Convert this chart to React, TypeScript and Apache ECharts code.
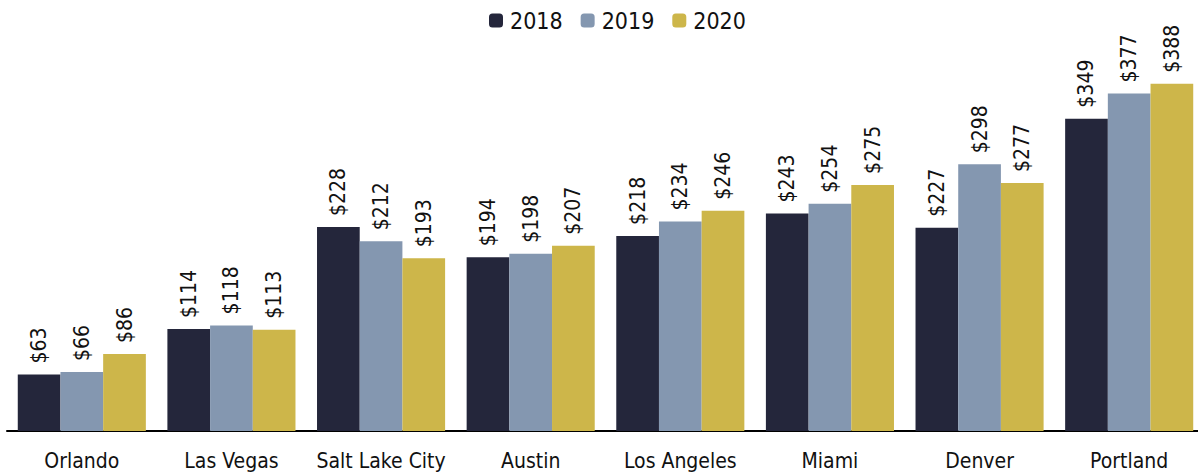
import React, { useEffect, useRef } from "react";
import * as echarts from "echarts";

const categories = ["Orlando", "Las Vegas", "Salt Lake City", "Austin", "Los Angeles", "Miami", "Denver", "Portland"];
const seriesNames = ["2018", "2019", "2020"];
const values2018 = [63, 114, 228, 194, 218, 243, 227, 349];
const values2019 = [66, 118, 212, 198, 234, 254, 298, 377];
const values2020 = [86, 113, 193, 207, 246, 275, 277, 388];
const colors = ["#24263B", "#8497B0", "#CDB64A"];

const FONT = "'Liberation Sans Narrow', 'Arial Narrow', 'DejaVu Sans Condensed', sans-serif";

export default function App() {
  const ref = useRef<HTMLDivElement>(null);
  useEffect(() => {
    if (!ref.current) return;
    const chart = echarts.init(ref.current, null, { renderer: "svg" });
    const data = [values2018, values2019, values2020];
    chart.setOption({
      animation: false,
      textStyle: { fontFamily: FONT },
      legend: {
        top: 4,
        left: 484,
        itemWidth: 14,
        itemHeight: 14,
        itemGap: 18,
        textStyle: { fontFamily: FONT, fontSize: 23, color: "#111", padding: [0, 0, 0, 2] },
        data: seriesNames,
      },
      grid: { left: 7, right: 0, top: 73, bottom: 42, containLabel: false },
      xAxis: {
        type: "category",
        data: categories,
        axisLine: { show: true, lineStyle: { color: "#000", width: 2 } },
        axisTick: { show: false },
        axisLabel: { fontFamily: FONT, fontSize: 21, color: "#111", margin: 19, interval: 0 },
      },
      yAxis: {
        type: "value",
        min: 0,
        max: 400,
        show: false,
        splitLine: { show: false },
      },
      series: seriesNames.map((name, i) => ({
        name,
        type: "bar",
        data: data[i],
        barGap: "0%",
        barCategoryGap: "14.4%",
        itemStyle: { color: colors[i] },
        label: {
          show: true,
          position: "top",
          rotate: 90,
          align: "left",
          verticalAlign: "middle",
          distance: 11,
          fontFamily: FONT,
          fontSize: 21,
          color: "#111",
          formatter: (p: any) => "$" + p.value,
        },
      })),
    });
    return () => chart.dispose();
  }, []);
  return (
    <div style={{ position: "absolute", left: 0, top: 0, width: 1198, height: 473, overflow: "hidden" }}>
      <div ref={ref} style={{ position: "absolute", left: 0, top: 0, width: 1204, height: 473 }} />
    </div>
  );
}
